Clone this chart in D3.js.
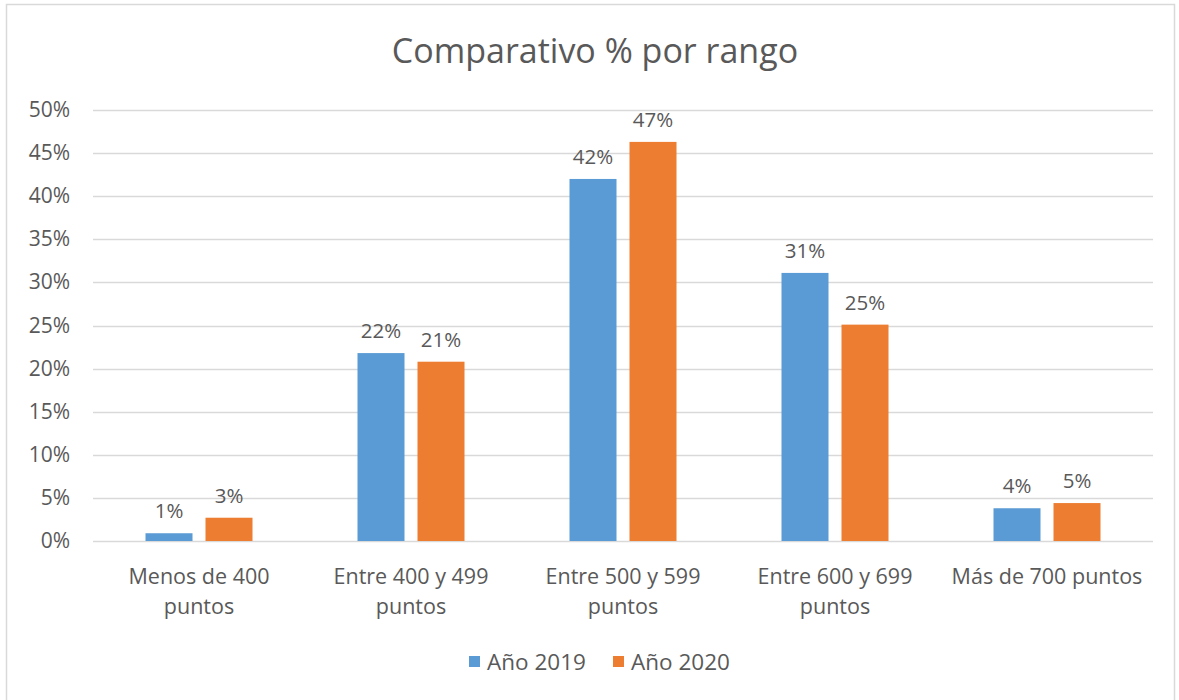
<!DOCTYPE html>
<html><head><meta charset="utf-8">
<script src="https://cdn.jsdelivr.net/npm/d3@7"></script>
<style>body{margin:0;background:#fff;}svg{display:block;font-family:"Open Sans","Noto Sans",sans-serif;}</style>
</head><body><svg id="c" width="1179" height="700"></svg>
<script>
const categories = [["Menos de 400","puntos"],["Entre 400 y 499","puntos"],["Entre 500 y 599","puntos"],["Entre 600 y 699","puntos"],["Más de 700 puntos"]];
const series = ["Año 2019","Año 2020"];
const values2019 = [0.9, 21.8, 42.0, 31.1, 3.8];
const values2020 = [2.7, 20.8, 46.3, 25.1, 4.4];
const labels2019 = ["1%","22%","42%","31%","4%"];
const labels2020 = ["3%","21%","47%","25%","5%"];
const yTicks = [0,5,10,15,20,25,30,35,40,45,50];
const colors = ["#5B9BD5","#ED7D31"];

(function(){
const svg = d3.select("#c");
svg.append("rect").attr("x",6.5).attr("y",4.5).attr("width",1168).attr("height",700).attr("fill","#fff").attr("stroke","#d9d9d9").attr("stroke-width",1.5);

const pLeft=93,pRight=1153,pTop=110,pBottom=541;
const x = d3.scaleBand().domain(d3.range(categories.length)).range([pLeft,pRight]);
const y = d3.scaleLinear().domain([0,50]).range([pBottom,pTop]);

svg.append("text").attr("x",595).attr("y",63).attr("text-anchor","middle").attr("font-size",34).attr("fill","#595959").text("Comparativo % por rango");

const g = svg.append("g");
g.selectAll("line.grid").data(yTicks).join("line").attr("x1",pLeft).attr("x2",pRight)
 .attr("y1",d=>Math.round(y(d))+0.5).attr("y2",d=>Math.round(y(d))+0.5).attr("stroke","#d9d9d9").attr("stroke-width",1.5);
g.selectAll("text.yt").data(yTicks).join("text").attr("x",70).attr("y",d=>y(d)+7).attr("text-anchor","end")
 .attr("font-size",21).attr("fill","#595959").text(d=>d+"%");

const bw=47, off=30;
[values2019,values2020].forEach((vals,si)=>{
  const labs = si===0?labels2019:labels2020;
  const cx = i=>x(i)+x.bandwidth()/2+(si===0?-off:off);
  g.selectAll("rect.s"+si).data(vals).join("rect").attr("class","s"+si).attr("x",(d,i)=>cx(i)-bw/2).attr("width",bw)
   .attr("y",d=>y(d)).attr("height",d=>pBottom-y(d)).attr("fill",colors[si]);
  g.selectAll("text.l"+si).data(vals).join("text").attr("class","l"+si).attr("x",(d,i)=>cx(i)).attr("y",d=>y(d)-15)
   .attr("text-anchor","middle").attr("font-size",20.5).attr("fill","#595959").text((d,i)=>labs[i]);
});

categories.forEach((c,i)=>{
  const t = g.append("text").attr("x",x(i)+x.bandwidth()/2).attr("y",584).attr("text-anchor","middle").attr("font-size",21.5).attr("fill","#595959");
  c.forEach((line,j)=>t.append("tspan").attr("x",x(i)+x.bandwidth()/2).attr("dy",j===0?0:30).text(line));
});

const lg = svg.append("g");
const lx=[469,613];
series.forEach((s,i)=>{
  lg.append("rect").attr("x",lx[i]).attr("y",656).attr("width",11).attr("height",11).attr("fill",colors[i]);
  lg.append("text").attr("x",lx[i]+18).attr("y",670).attr("font-size",22.5).attr("fill","#595959").text(s);
});
})();
</script></body></html>
